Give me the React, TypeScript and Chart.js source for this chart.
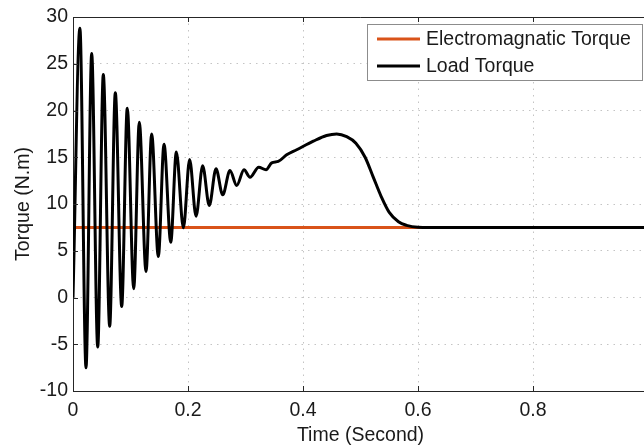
import React, { useEffect, useRef } from "react";
import { Chart, registerables } from "chart.js";

Chart.register(...registerables);

// ---- data ----
const legendLabels = ["Electromagnatic Torque", "Load Torque"];

const emTime = [0, 1];
const emTorque = [7.5, 7.5];

const loadTime = [
  0, 0.012, 0.0226, 0.0325, 0.043, 0.0527, 0.0638, 0.0736, 0.0847, 0.0944,
  0.1056, 0.1153, 0.127, 0.1368, 0.1484, 0.1583, 0.17, 0.1797, 0.192, 0.2028,
  0.214, 0.2255, 0.237, 0.2487, 0.2603, 0.273, 0.2847, 0.2974, 0.3078, 0.323,
  0.3357, 0.3456, 0.357, 0.3716, 0.389, 0.418, 0.441, 0.4586, 0.476, 0.492,
  0.508, 0.522, 0.536, 0.55, 0.566, 0.58, 0.6, 0.62, 1.0,
];
const loadTorque = [
  0, 28.8, -7.5, 26.1, -5.3, 23.85, -3.07, 21.9, -0.96, 20.25,
  0.93, 18.75, 2.78, 17.5, 4.38, 16.4, 5.92, 15.55, 7.45, 14.75,
  8.7, 14.1, 9.84, 13.76, 10.98, 13.58, 11.98, 13.66, 12.87, 13.94,
  13.66, 14.4, 14.55, 15.26, 15.8, 16.72, 17.33, 17.5, 17.2, 16.5,
  15.0, 12.9, 10.8, 9.1, 8.1, 7.72, 7.52, 7.5, 7.5,
];

const xTicks = [0, 0.2, 0.4, 0.6, 0.8];
const yTicks = [-10, -5, 0, 5, 10, 15, 20, 25, 30];

const FONT = "'Liberation Sans', Arial, Helvetica, sans-serif";
const TEXT = "#1a1a1a";
const AXIS = "#262626";

const framePlugin = {
  id: "frameAndLegend",
  afterDatasetsDraw(chart: any) {
    const { ctx, chartArea: a, scales } = chart;
    ctx.save();
    ctx.strokeStyle = AXIS;
    ctx.lineWidth = 1;
    ctx.setLineDash([]);
    // top border
    ctx.beginPath();
    ctx.moveTo(a.left, Math.round(a.top) + 0.5);
    ctx.lineTo(a.right, Math.round(a.top) + 0.5);
    ctx.stroke();
    // inward ticks
    const tl = 5;
    ctx.beginPath();
    for (const v of xTicks) {
      const px = Math.round(scales.x.getPixelForValue(v)) + 0.5;
      ctx.moveTo(px, a.bottom);
      ctx.lineTo(px, a.bottom - tl);
      ctx.moveTo(px, a.top);
      ctx.lineTo(px, a.top + tl);
    }
    for (const v of yTicks) {
      const py = Math.round(scales.y.getPixelForValue(v)) + 0.5;
      ctx.moveTo(a.left, py);
      ctx.lineTo(a.left + tl, py);
    }
    ctx.stroke();

    // legend
    const bx = a.right - 281;
    const by = a.top + 7;
    const bw = 275;
    const bh = 56;
    ctx.fillStyle = "#ffffff";
    ctx.fillRect(bx, by, bw, bh);
    ctx.strokeStyle = "#8c8c8c";
    ctx.lineWidth = 1;
    ctx.strokeRect(Math.round(bx) + 0.5, Math.round(by) + 0.5, bw, bh);
    const ds = chart.data.datasets;
    ctx.font = `19.5px ${FONT}`;
    ctx.textBaseline = "middle";
    ctx.textAlign = "left";
    for (let i = 0; i < legendLabels.length; i++) {
      const y = by + 15 + i * 27;
      ctx.strokeStyle = ds[i].borderColor;
      ctx.lineWidth = 3;
      ctx.beginPath();
      ctx.moveTo(bx + 10, y);
      ctx.lineTo(bx + 53, y);
      ctx.stroke();
      ctx.fillStyle = TEXT;
      ctx.fillText(legendLabels[i], bx + 59, y + 1);
    }
    ctx.restore();
  },
};

export default function App() {
  const ref = useRef<HTMLCanvasElement | null>(null);

  useEffect(() => {
    if (!ref.current) return;
    const chart = new Chart(ref.current, {
      type: "line",
      data: {
        datasets: [
          {
            label: legendLabels[0],
            data: emTime.map((t, i) => ({ x: t, y: emTorque[i] })),
            borderColor: "#D95319",
            borderWidth: 3,
            pointRadius: 0,
            fill: false,
            order: 2,
          },
          {
            label: legendLabels[1],
            data: loadTime.map((t, i) => ({ x: t, y: loadTorque[i] })),
            borderColor: "#000000",
            borderWidth: 3,
            pointRadius: 0,
            fill: false,
            cubicInterpolationMode: "monotone",
            order: 1,
          },
        ],
      },
      options: {
        responsive: false,
        animation: false,
        devicePixelRatio: 1,
        layout: { padding: { top: 17, right: 12, left: 0, bottom: 0 } },
        plugins: {
          legend: { display: false },
          tooltip: { enabled: false },
        },
        scales: {
          x: {
            type: "linear",
            min: 0,
            max: 1,
            afterBuildTicks: (s: any) => {
              s.ticks = xTicks.map((v) => ({ value: v }));
            },
            afterFit: (s: any) => {
              s.height = 56;
            },
            ticks: {
              color: TEXT,
              font: { family: FONT, size: 19.5 },
              padding: 8,
              maxRotation: 0,
              autoSkip: false,
              callback: (v: any) => String(v),
            },
            grid: { color: "#c4c4c4", lineWidth: 1, drawTicks: false },
            border: { display: true, color: AXIS, width: 1, dash: [1.5, 5] },
            title: {
              display: true,
              text: "Time (Second)",
              color: TEXT,
              font: { family: FONT, size: 19.5 },
              padding: { top: 0, bottom: 0 },
            },
          },
          y: {
            type: "linear",
            min: -10,
            max: 30,
            afterBuildTicks: (s: any) => {
              s.ticks = yTicks.map((v) => ({ value: v }));
            },
            afterFit: (s: any) => {
              s.width = 73;
            },
            ticks: {
              color: TEXT,
              font: { family: FONT, size: 19.5 },
              padding: 5,
              autoSkip: false,
              callback: (v: any) => String(v),
            },
            grid: { color: "#c4c4c4", lineWidth: 1, drawTicks: false },
            border: { display: true, color: AXIS, width: 1, dash: [1.5, 5] },
            title: {
              display: true,
              text: "Torque (N.m)",
              color: TEXT,
              font: { family: FONT, size: 19.5 },
              padding: { top: 12, bottom: 0 },
            },
          },
        },
      },
      plugins: [framePlugin],
    } as any);
    return () => chart.destroy();
  }, []);

  return (
    <div
      style={{
        position: "fixed",
        left: 0,
        top: 0,
        width: 644,
        height: 447,
        overflow: "hidden",
        background: "#ffffff",
      }}
    >
      <canvas ref={ref} width={660} height={447} style={{ display: "block" }} />
    </div>
  );
}
